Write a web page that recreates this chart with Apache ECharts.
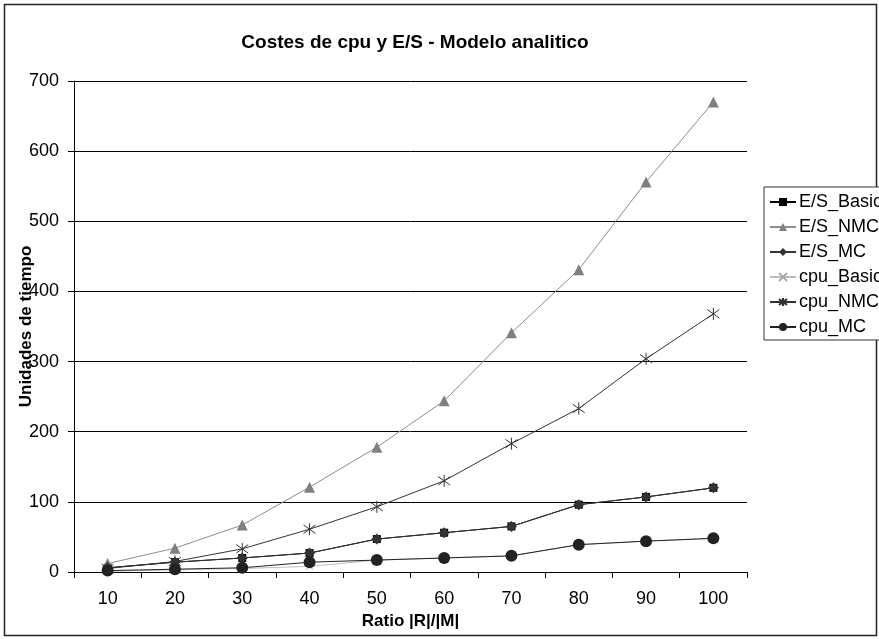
<!DOCTYPE html>
<html>
<head>
<meta charset="utf-8">
<script src="https://cdn.jsdelivr.net/npm/echarts@6/dist/echarts.min.js"></script>
<style>
  html, body { margin: 0; padding: 0; background: #ffffff; }
  #chart { width: 879px; height: 639px; }
</style>
</head>
<body>
<div id="chart"></div>
<script>
// Ratio |R|/|M| categories
const ratios = ['10', '20', '30', '40', '50', '60', '70', '80', '90', '100'];

// Cost series (time units)
const esBasic  = [6, 14, 20, 27, 47, 56, 65, 96, 107, 120];
const esNMC    = [12, 34, 67, 121, 178, 244, 341, 431, 556, 670];
const esMC     = [6, 14, 20, 27, 47, 56, 65, 96, 107, 120];
const cpuBasic = [1, 3, 5, 8, 17, 20, 23, 39, 44, 48];
const cpuNMC   = [5, 15, 33, 61, 93, 130, 183, 233, 304, 368];
const cpuMC    = [2, 4, 6, 14, 17, 20, 23, 39, 44, 48];

const seriesNames = ['E/S_Basic', 'E/S_NMC', 'E/S_MC', 'cpu_Basic', 'cpu_NMC', 'cpu_MC'];

const FONT = '"Liberation Sans", Arial, sans-serif';
const STAR = 'path://M-4,-4L4,4M-4,4L4,-4M0,-5.6L0,5.6';
const CROSS = 'path://M-4,-4L4,4M-4,4L4,-4';

function lineSeries(name, data, color, symbol, size, opts) {
  const s = {
    name: name,
    type: 'line',
    data: data,
    symbol: symbol,
    symbolSize: size,
    showSymbol: true,
    lineStyle: { color: color, width: 1 },
    itemStyle: { color: color },
    emphasis: { disabled: true }
  };
  return Object.assign(s, opts || {});
}

const chart = echarts.init(document.getElementById('chart'), null, { renderer: 'canvas' });

chart.setOption({
  animation: false,
  backgroundColor: '#ffffff',
  title: {
    text: 'Costes de cpu y E/S - Modelo analitico',
    left: 410,
    top: 28,
    textAlign: 'center',
    textStyle: { fontFamily: FONT, fontSize: 19, fontWeight: 'bold', color: '#000' }
  },
  graphic: [{
    type: 'rect',
    shape: { x: 4.5, y: 4.5, width: 872, height: 631 },
    style: { fill: 'none', stroke: '#222', lineWidth: 1.5 },
    silent: true
  }],
  legend: {
    orient: 'vertical',
    left: 764,
    top: 187,
    data: seriesNames,
    itemWidth: 26,
    itemHeight: 10,
    itemGap: 7,
    padding: [6, 30, 4, 5],
    borderColor: '#333',
    borderWidth: 1,
    backgroundColor: '#fff',
    textStyle: { fontFamily: FONT, fontSize: 18, color: '#000', lineHeight: 18, padding: [0, 0, 0, -2] }
  },
  grid: {
    left: 74, top: 81, right: 132, bottom: 67,
    containLabel: false,
    outerBoundsMode: 'none'
  },
  xAxis: {
    type: 'category',
    data: ratios,
    boundaryGap: true,
    name: 'Ratio |R|/|M|',
    nameLocation: 'middle',
    nameGap: 41,
    nameMoveOverlap: false,
    nameTextStyle: { fontFamily: FONT, fontSize: 17, fontWeight: 'bold', color: '#000' },
    axisLine: { lineStyle: { color: '#000', width: 1 } },
    axisTick: { show: true, inside: false, length: 6, alignWithLabel: false, lineStyle: { color: '#000' } },
    axisLabel: { fontFamily: FONT, fontSize: 18, color: '#000', margin: 18 },
    splitLine: { show: false }
  },
  yAxis: {
    type: 'value',
    min: 0,
    max: 700,
    interval: 100,
    name: 'Unidades de tiempo',
    nameLocation: 'middle',
    nameGap: 39,
    nameMoveOverlap: false,
    nameTextStyle: { fontFamily: FONT, fontSize: 17, fontWeight: 'bold', color: '#000' },
    axisLine: { show: true, lineStyle: { color: '#000', width: 1 } },
    axisTick: { show: true, inside: false, length: 6, lineStyle: { color: '#000' } },
    axisLabel: { fontFamily: FONT, fontSize: 18, color: '#000', margin: 15 },
    splitLine: { show: true, lineStyle: { color: '#000', width: 1 } }
  },
  series: [
    lineSeries('E/S_Basic', esBasic, '#000000', 'rect', 8),
    lineSeries('E/S_NMC', esNMC, '#8c8c8c', 'triangle', 11, { itemStyle: { color: '#808080' } }),
    lineSeries('E/S_MC', esMC, '#333333', 'diamond', 11),
    lineSeries('cpu_Basic', cpuBasic, '#bdbdbd', CROSS, 7, {
      itemStyle: { color: 'rgba(0,0,0,0)', borderColor: '#a8a8a8', borderWidth: 1 }
    }),
    lineSeries('cpu_NMC', cpuNMC, '#333333', STAR, 12, {
      itemStyle: { color: 'rgba(0,0,0,0)', borderColor: '#333333', borderWidth: 1 }
    }),
    lineSeries('cpu_MC', cpuMC, '#222222', 'circle', 12)
  ]
});
</script>
</body>
</html>
